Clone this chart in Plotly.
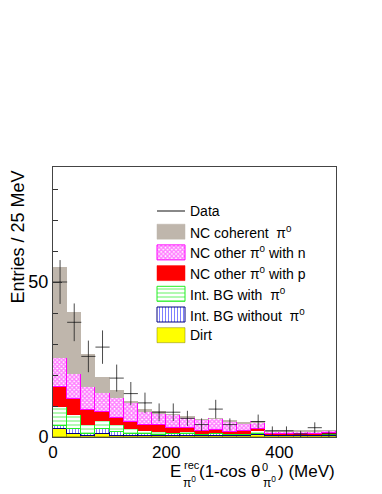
import numpy as np
import plotly.graph_objects as go

# 25 MeV bins, 0-500 MeV
bin_lo = [0, 25, 50, 75, 100, 125, 150, 175, 200, 225,
          250, 275, 300, 325, 350, 375, 400, 425, 450, 475]
bin_w = 25

# stacked MC components (entries per bin), bottom to top
dirt = [2.7, 1.1, 0.4, 1.1, 0.4, 0.3, 0.3, 0.3, 0.3, 0.3,
        0.2, 0.3, 0.3, 0.3, 0.6, 0.2, 0.2, 0.2, 0.2, 0.2]
bg_nopi0 = [0.8, 1.6, 0.7, 1.5, 1.2, 0.8, 0.6, 0.5, 0.6, 0.8,
            0.4, 0.6, 0.4, 0.5, 0.3, 0.3, 0.3, 0.3, 0.4, 0.5]
bg_pi0 = [6.2, 4.3, 2.7, 2.5, 2.2, 1.6, 1.0, 0.8, 0.4, 0.5,
          0.5, 0.4, 0.2, 0.3, 1.0, 0.2, 0.2, 0.2, 0.2, 0.3]
nc_other_p = [6.4, 5.4, 5.0, 3.0, 2.4, 2.1, 2.0, 2.2, 1.6, 1.4,
              0.8, 1.1, 0.7, 0.7, 0.8, 0.3, 0.3, 0.3, 0.2, 0.3]
nc_other_n = [9.5, 7.8, 7.2, 6.2, 6.5, 6.1, 4.1, 3.9, 4.2, 3.4,
              3.7, 3.5, 3.4, 2.5, 2.1, 0.9, 0.7, 0.7, 0.7, 0.7]
nc_coherent = [29.4, 20.1, 10.7, 4.9, 2.6, 0.7, 1.1, 0.6, 0.3, 0.3,
               0.2, 0.1, 0.3, 0.3, 0.3, 0.3, 0.3, 0.3, 0.3, 0.1]

# data counts (None = empty bin)
data = [50, 37, 26, 29, 19, 14, 11, 8, 8, 6,
        4, 9, 4, None, 5, 2, 2, 1, 3, 1]

legend_labels = ["Data", "NC coherent  π<sup>0</sup>", "NC other π<sup>0</sup> with n",
                 "NC other π<sup>0</sup> with p", "Int. BG with  π<sup>0</sup>",
                 "Int. BG without  π<sup>0</sup>", "Dirt"]

FONT = "Liberation Sans, Arial, Helvetica, sans-serif"
PAGE = 8  # body margin of the html page
W, H = 382 - PAGE, 494 - PAGE
L, R, T, B = 53, 336, 167, 437  # plot area in window pixels


def px(x, y):
    # window pixel -> paper fraction
    return (x - L) / (R - L), (B - y) / (B - T)


centers = [lo + bin_w / 2 for lo in bin_lo]
errs = [np.sqrt(v) if v is not None else None for v in data]

styles = [
    # (values, fill, pattern, line colour, line width)
    (dirt, "#ffff00", None, "#808000", 0.5),
    (bg_nopi0, "white", dict(shape="|", fgcolor="#0000ff", bgcolor="white", size=3, solidity=0.35), "#000080", 1),
    (bg_pi0, "white", dict(shape="-", fgcolor="#22ee22", bgcolor="white", size=4, solidity=0.35), "#22ee22", 1),
    (nc_other_p, "#ff0000", None, "#ff0000", 0),
    (nc_other_n, "white", dict(shape="x", fgcolor="#ff00ff", bgcolor="white", size=3, solidity=0.7), "#ff00ff", 1),
    (nc_coherent, "#bfb6ac", None, "#bfb6ac", 0),
]

fig = go.Figure()
for vals, col, pat, lcol, lw in styles:
    marker = dict(color=col, line=dict(color=lcol, width=lw))
    if pat:
        marker["pattern"] = pat
    fig.add_trace(go.Bar(x=centers, y=vals, width=bin_w, marker=marker,
                         showlegend=False, hoverinfo="skip"))

fig.add_trace(go.Scatter(
    x=centers, y=data, mode="markers",
    marker=dict(size=1, color="rgba(30,30,30,0.8)"),
    error_y=dict(type="data", array=errs, width=0, thickness=1, color="rgba(30,30,30,0.8)"),
    error_x=dict(type="constant", value=bin_w / 2, width=0, thickness=1, color="rgba(30,30,30,0.8)"),
    showlegend=False,
))

# legend drawn by hand in pixel coordinates on an overlay axis pair
leg_y0, leg_dy = 211, 20.7
sw_x0, sw_x1, sw_h = 157, 185, 15
leg_styles = [None] + styles[::-1]
for i, lab in enumerate(legend_labels):
    yc = leg_y0 + i * leg_dy
    if i == 0:
        fig.add_trace(go.Scatter(x=[sw_x0, sw_x1], y=[yc, yc], mode="lines",
                                 line=dict(color="#888888", width=2),
                                 xaxis="x2", yaxis="y2", showlegend=False, hoverinfo="skip"))
    else:
        _, col, pat, lcol, lw = leg_styles[i]
        kw = {}
        if pat:
            kw["fillpattern"] = pat
        fig.add_trace(go.Scatter(
            x=[sw_x0, sw_x1, sw_x1, sw_x0, sw_x0],
            y=[yc - sw_h / 2, yc - sw_h / 2, yc + sw_h / 2, yc + sw_h / 2, yc - sw_h / 2],
            mode="lines", fill="toself", fillcolor=col,
            line=dict(color=lcol if lw > 0 else col, width=max(lw, 0.5)),
            xaxis="x2", yaxis="y2", showlegend=False, hoverinfo="skip", **kw))
    ax, ay = px(188, yc)
    fig.add_annotation(x=ax, y=ay, xref="paper", yref="paper", text=lab, showarrow=False,
                       xanchor="left", yanchor="middle", font=dict(size=14, color="black"))

# axis titles
ax, ay = px(17, T + 2)
fig.add_annotation(x=ax, y=ay, xref="paper", yref="paper", text="Entries / 25 MeV",
                   textangle=-90, showarrow=False, xanchor="center", yanchor="top",
                   font=dict(size=18, color="black"))
xt = [
    (168, 471, "E", 17),
    (182, 465, "rec", 11),
    (181, 482, "π<sup>0</sup>", 12),
    (197, 471, "(1-cos θ", 17),
    (260, 467, "0", 11),
    (261, 482, "π<sup>0</sup>", 12),
    (276, 471, ") (MeV)", 17),
]
for x, y, txt, sz in xt:
    ax, ay = px(x, y)
    fig.add_annotation(x=ax, y=ay, xref="paper", yref="paper", text=txt, showarrow=False,
                       xanchor="left", yanchor="middle", font=dict(size=sz, color="black"))

fig.update_layout(
    width=W, height=H,
    margin=dict(l=L - PAGE, r=W - (R - PAGE), t=T - PAGE, b=H - (B - PAGE), autoexpand=False),
    paper_bgcolor="white", plot_bgcolor="white",
    barmode="stack", bargap=0,
    font=dict(family=FONT, size=18, color="black"),
    xaxis=dict(range=[0, 500], tickvals=[0, 200, 400], ticks="", showgrid=False,
               zeroline=False, showline=True, mirror=True, linecolor="#444", linewidth=1,
               tickfont=dict(size=17)),
    yaxis=dict(range=[0, 87.1], tickvals=[0, 50], ticks="inside", ticklen=9, tickcolor="#333",
               minor=dict(dtick=10, ticks="inside", ticklen=5, tickcolor="#333"),
               showgrid=False, zeroline=False, showline=True, mirror=True,
               linecolor="#444", linewidth=1, tickfont=dict(size=18)),
    xaxis2=dict(range=[L, R], overlaying="x", visible=False, fixedrange=True),
    yaxis2=dict(range=[B, T], overlaying="y", visible=False, fixedrange=True),
)

fig.write_html("out.html")
